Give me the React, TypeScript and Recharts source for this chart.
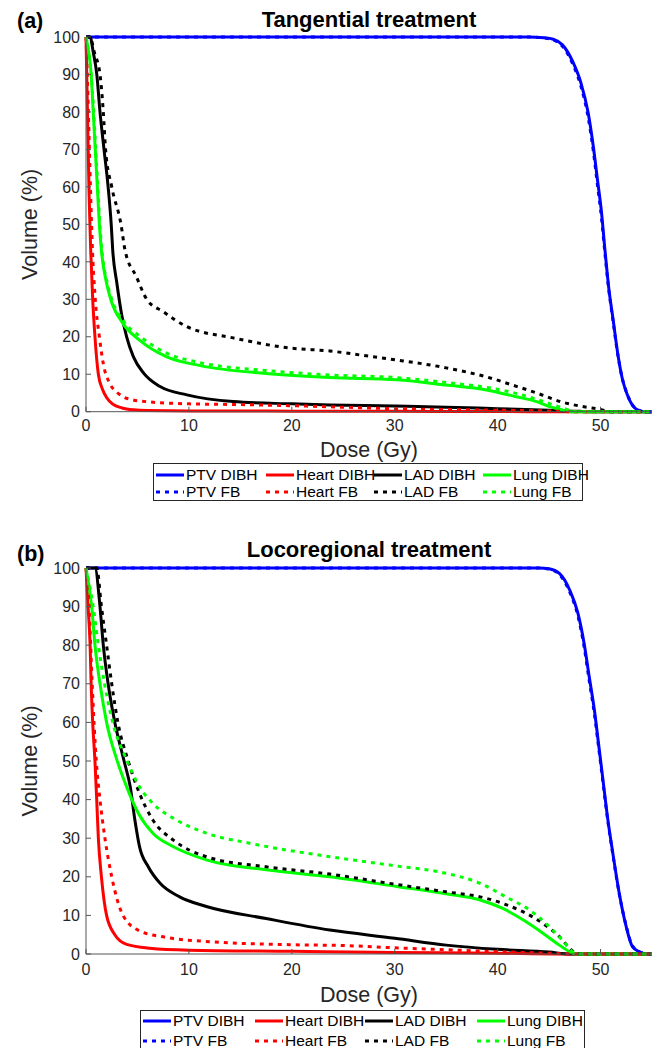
import React from 'react';
import { LineChart, Line, XAxis, YAxis, Legend } from 'recharts';

const FONT = '"Liberation Sans", Arial, Helvetica, sans-serif';

const seriesNames = ['PTV DIBH', 'Heart DIBH', 'LAD DIBH', 'Lung DIBH', 'PTV FB', 'Heart FB', 'LAD FB', 'Lung FB'];
const seriesColors = ['#0000ff', '#ff0000', '#000000', '#00ff00', '#0000ff', '#ff0000', '#000000', '#00ff00'];
const seriesDotted = [false, false, false, false, true, true, true, true];

const doseTicks = [0, 10, 20, 30, 40, 50];
const volumeTicks = [0, 10, 20, 30, 40, 50, 60, 70, 80, 90, 100];

// (a) tangential treatment: [dose Gy, volume %]
const tangPtvDibh = [[0, 100], [43, 100], [44.5, 99.8], [45.4, 99.4], [46.3, 97.9], [47.3, 93.4], [48.1, 87.7], [48.8, 79.7], [49.3, 70.7], [49.7, 61.9], [50.1, 53], [50.4, 44], [50.8, 33], [51.2, 25], [51.7, 15], [52.1, 9], [52.6, 4.5], [53.1, 1.7], [53.6, 0.5], [54.2, 0], [55, 0]];
const tangHeartDibh = [[0, 100], [0.1, 86], [0.2, 72], [0.3, 58], [0.46, 43], [0.65, 30], [0.87, 20], [1.2, 10], [1.6, 6], [2, 3.8], [2.6, 2], [3.5, 1], [4.6, 0.5], [6, 0.3], [10, 0.2], [20, 0.15], [30, 0.1], [40, 0.05], [45, 0], [55, 0]];
const tangLadDibh = [[0, 100], [0.4, 100], [0.7, 96], [1.05, 90], [1.36, 80], [1.75, 70], [2.15, 60], [2.45, 50], [2.6, 43], [3, 34.3], [3.5, 25.4], [3.95, 20], [4.6, 14.7], [5.6, 10.3], [7.2, 6.7], [9.8, 4.5], [14.3, 2.7], [20, 2.1], [23.7, 1.8], [30, 1.5], [35, 1.2], [40, 0.8], [45, 0.4], [48, 0.1], [50, 0], [55, 0]];
const tangLungDibh = [[0, 100], [0.2, 97], [0.5, 90], [0.7, 80], [0.9, 70], [1.1, 60], [1.3, 50], [1.5, 43], [2, 34.3], [2.4, 30], [3.6, 23.5], [5.2, 19.1], [7.8, 14.7], [11.1, 12.3], [17.5, 10.2], [23.7, 9.1], [30.2, 8.5], [35, 7.1], [38.9, 5.8], [41.8, 4], [43.8, 2.7], [45.1, 1.3], [46.1, 0.6], [47, 0], [55, 0]];
const tangPtvFb = [[0, 100], [43, 100], [44.5, 99.7], [45.4, 99.2], [46.3, 97.5], [47.3, 92.8], [48.1, 86.8], [48.8, 78.5], [49.3, 69.5], [49.7, 60.5], [50.1, 51.5], [50.4, 43], [50.8, 32.5], [51.2, 24.5], [51.7, 14.8], [52.1, 9], [52.6, 4.6], [53.1, 1.8], [53.6, 0.6], [54.3, 0], [55, 0]];
const tangHeartFb = [[0, 100], [0.15, 88], [0.3, 73], [0.45, 58], [0.6, 45], [0.9, 30], [1.3, 20], [1.7, 12.5], [2.3, 7.6], [3, 5.2], [3.6, 4], [4.5, 3.2], [6.2, 2.6], [10, 2.1], [15, 1.9], [20, 1.6], [25, 1.2], [30, 0.8], [35, 0.6], [40, 0.4], [45, 0.2], [47.5, 0], [55, 0]];
const tangLadFb = [[0, 100], [0.4, 100], [0.8, 96], [1.36, 90], [1.68, 80], [1.9, 70], [2.5, 60], [3.4, 50], [3.8, 43], [4.9, 36], [5.9, 30], [7.5, 26.7], [9.8, 22.7], [14.3, 19.7], [19.8, 17], [23.7, 16.2], [27, 15], [30.2, 13.8], [35, 11.7], [38.9, 9.3], [41.9, 6.7], [43.9, 4.9], [46.1, 2.7], [48.4, 1.3], [50, 0.6], [51, 0], [55, 0]];
const tangLungFb = [[0, 100], [0.2, 97], [0.5, 90], [0.75, 80], [0.95, 70], [1.15, 60], [1.35, 50], [1.55, 43], [2.05, 34.5], [2.5, 30], [3.7, 24], [5.3, 20], [7.8, 15.7], [11.1, 13.1], [17.5, 11], [23.7, 9.8], [30.2, 9.1], [35, 7.8], [38.9, 6.5], [41.8, 4.9], [43.8, 3.3], [45.1, 2.1], [46.4, 0.9], [47.6, 0], [55, 0]];

// (b) locoregional treatment
const locoPtvDibh = [[0, 100], [44, 100], [45, 99.8], [46, 98.6], [47, 94.3], [47.8, 88.3], [48.4, 80.5], [48.9, 71.8], [49.4, 63.2], [49.8, 54.6], [50.2, 45.9], [50.7, 35], [51.2, 26], [51.8, 16], [52.5, 7], [53.1, 1.9], [53.8, 0.5], [54.5, 0], [55, 0]];
const locoHeartDibh = [[0, 100], [0.2, 90], [0.4, 80], [0.5, 70], [0.65, 60], [0.87, 50], [1.04, 40], [1.2, 30], [1.5, 20], [2, 10], [2.8, 5], [3.95, 2.5], [6.2, 1.5], [10, 1], [20, 0.7], [30, 0.4], [40, 0.2], [46, 0], [55, 0]];
const locoLadDibh = [[0, 100], [0.87, 100], [1.36, 90], [1.68, 80], [2.15, 70], [2.8, 60], [3.7, 50], [4.3, 43.3], [4.75, 34.7], [5.2, 27.8], [6.05, 22.6], [7.2, 18.3], [9.1, 14.8], [11.7, 12.3], [17.5, 9.2], [23.7, 6.2], [30, 4.1], [35, 2.3], [40, 1.2], [45, 0.5], [47, 0], [55, 0]];
const locoLungDibh = [[0, 100], [0.55, 90], [0.87, 80], [1.36, 70], [2, 60], [3, 50.3], [3.95, 43.3], [5.1, 36.4], [6.5, 31.3], [8.5, 27.8], [11.7, 24.4], [17.5, 21.8], [23.7, 20], [30.2, 17.5], [35, 15.6], [38.3, 14], [40.5, 11.8], [42.5, 8.8], [44.4, 5.4], [46, 2.3], [47, 0.6], [47.6, 0], [55, 0]];
const locoPtvFb = [[0, 100], [44, 100], [45, 99.7], [46, 98.3], [47, 93.8], [47.8, 87.6], [48.4, 79.6], [48.9, 70.8], [49.4, 62.2], [49.8, 53.8], [50.2, 45.2], [50.7, 34.6], [51.2, 25.7], [51.8, 15.8], [52.5, 7.2], [53.1, 2.1], [53.8, 0.6], [54.6, 0], [55, 0]];
const locoHeartFb = [[0, 100], [0.3, 90], [0.6, 70], [1, 50], [1.36, 40], [1.84, 30], [2.5, 20], [3.6, 10], [5.2, 6], [7.8, 4.3], [12, 3.2], [20, 2.4], [25, 2.2], [30, 1.6], [35, 1.1], [40, 0.6], [45, 0.2], [47, 0], [55, 0]];
const locoLadFb = [[0, 100], [1.04, 100], [1.5, 90], [2, 80], [2.5, 70], [3.1, 60], [4.1, 50], [5.2, 41.6], [6.5, 34.7], [8.5, 29.5], [11.7, 25.2], [17.5, 22.6], [23.7, 20.7], [30.2, 18], [35, 16.1], [38.3, 14.8], [40.5, 13.1], [44.4, 7.9], [46, 4.5], [47, 1.5], [47.6, 0.2], [48, 0], [55, 0]];
const locoLungFb = [[0, 100], [0.7, 90], [1.2, 80], [1.8, 70], [2.6, 60], [4, 50], [5.2, 43.3], [6.5, 39], [8.8, 34.7], [11.7, 31.3], [15.9, 28.7], [23.7, 25.2], [30.2, 22.8], [35, 20.9], [38.3, 18.3], [40.8, 14.8], [43.1, 11.4], [44.7, 7.9], [46.3, 3.6], [47.3, 0.6], [48, 0], [55, 0]];

const tangSeries = [tangPtvDibh, tangHeartDibh, tangLadDibh, tangLungDibh, tangPtvFb, tangHeartFb, tangLadFb, tangLungFb];
const locoSeries = [locoPtvDibh, locoHeartDibh, locoLadDibh, locoLungDibh, locoPtvFb, locoHeartFb, locoLadFb, locoLungFb];

const toRows = (pts: number[][]) => pts.map(([dose, vol]) => ({ dose, vol }));

const DASH = '4 5';

function LegendBox({ cols, rowH, padTop }: { cols: number[]; rowH: number; padTop: number }) {
  return (
    <div
      style={{
        border: '1px solid #262626',
        background: '#fff',
        display: 'grid',
        gridTemplateColumns: cols.map(c => c + 'px').join(' '),
        fontFamily: FONT,
        fontSize: 15.5,
        lineHeight: rowH + 'px',
        color: '#000',
        padding: `${padTop}px 0 0 2px`,
        boxSizing: 'border-box',
      }}
    >
      {seriesNames.map((n, i) => (
        <div key={n} style={{ display: 'flex', alignItems: 'center', whiteSpace: 'nowrap', height: rowH }}>
          <svg width={28} height={6} style={{ marginRight: 2, flex: 'none' }}>
            <line x1={0} x2={28} y1={3} y2={3} stroke={seriesColors[i]} strokeWidth={3}
              strokeDasharray={seriesDotted[i] ? DASH : undefined} />
          </svg>
          <span>{n}</span>
        </div>
      ))}
    </div>
  );
}

type PanelProps = {
  top: number;
  height: number;
  plotTop: number;
  plotBottom: number;
  series: number[][][];
  tag: string;
  tagBaseline: number;
  title: string;
  titleBaseline: number;
  tickGap: number;
  xLabelGap: number;
  legendTop: number;
  legendLeft: number;
  legendWidth: number;
  legendCols: number[];
  legendRowH: number;
  legendPadTop: number;
};

function Panel(p: PanelProps) {
  const xAxisH = 60;
  const tickStyle = { fill: '#262626', fontSize: 16, fontFamily: FONT };
  return (
    <div style={{ position: 'absolute', left: 0, top: p.top, width: 659, height: p.height }}>
      <LineChart
        width={659}
        height={p.height}
        margin={{ top: p.plotTop, right: 7, left: 0, bottom: p.height - p.plotBottom - xAxisH }}
      >
        <XAxis
          type="number"
          dataKey="dose"
          domain={[0, 55]}
          ticks={doseTicks}
          interval={0}
          height={xAxisH}
          stroke="#555"
          tickSize={-5}
          tickMargin={5 + p.tickGap}
          tick={tickStyle}
          label={{
            content: (props: any) => {
              const vb = props.viewBox;
              return (
                <text x={vb.x + vb.width / 2} y={vb.y + p.xLabelGap} textAnchor="middle"
                  fontFamily={FONT} fontSize={21.5} fill="#262626">Dose (Gy)</text>
              );
            },
          }}
        />
        <YAxis
          type="number"
          domain={[0, 100]}
          ticks={volumeTicks}
          interval={0}
          width={86}
          stroke="#555"
          tickSize={-5}
          tickMargin={11}
          tick={tickStyle}
          label={{
            content: (props: any) => {
              const vb = props.viewBox;
              const cx = 37;
              const cy = vb.y + vb.height / 2;
              return (
                <text x={cx} y={cy} transform={`rotate(-90, ${cx}, ${cy})`} textAnchor="middle"
                  fontFamily={FONT} fontSize={21.5} fill="#262626">Volume (%)</text>
              );
            },
          }}
        />
        {p.series.map((pts, i) => (
          <Line
            key={seriesNames[i]}
            data={toRows(pts)}
            dataKey="vol"
            name={seriesNames[i]}
            type="monotone"
            stroke={seriesColors[i]}
            strokeWidth={3}
            strokeDasharray={seriesDotted[i] ? DASH : undefined}
            dot={false}
            activeDot={false}
            isAnimationActive={false}
          />
        ))}
        <Legend
          layout="horizontal"
          verticalAlign="middle"
          align="center"
          wrapperStyle={{ top: p.legendTop, left: p.legendLeft, width: p.legendWidth }}
          content={() => <LegendBox cols={p.legendCols} rowH={p.legendRowH} padTop={p.legendPadTop} />}
        />
      </LineChart>
      <svg width={659} height={60} style={{ position: 'absolute', left: 0, top: 0, pointerEvents: 'none' }}>
        <text x={17} y={p.tagBaseline} fontFamily={FONT} fontWeight="bold" fontSize={21.5} fill="#000">{p.tag}</text>
        <text x={369} y={p.titleBaseline} textAnchor="middle" fontFamily={FONT} fontWeight="bold" fontSize={22} fill="#000">{p.title}</text>
      </svg>
    </div>
  );
}

export default function App() {
  return (
    <div style={{ position: 'absolute', left: 0, top: 0, width: 659, height: 1048, overflow: 'hidden', background: '#fff' }}>
      <Panel
        top={0}
        height={520}
        plotTop={37}
        plotBottom={411.7}
        series={tangSeries}
        tag="(a)"
        tagBaseline={28}
        title="Tangential treatment"
        titleBaseline={27}
        tickGap={8}
        xLabelGap={45.5}
        legendTop={463}
        legendLeft={153}
        legendWidth={430}
        legendCols={[110, 108, 109, 100]}
        legendRowH={17}
        legendPadTop={2}
      />
      <Panel
        top={520}
        height={528}
        plotTop={48}
        plotBottom={434}
        series={locoSeries}
        tag="(b)"
        tagBaseline={41}
        title="Locoregional treatment"
        titleBaseline={37}
        tickGap={10}
        xLabelGap={47.5}
        legendTop={490}
        legendLeft={140}
        legendWidth={445}
        legendCols={[112, 110, 112, 108]}
        legendRowH={20}
        legendPadTop={0}
      />
    </div>
  );
}
